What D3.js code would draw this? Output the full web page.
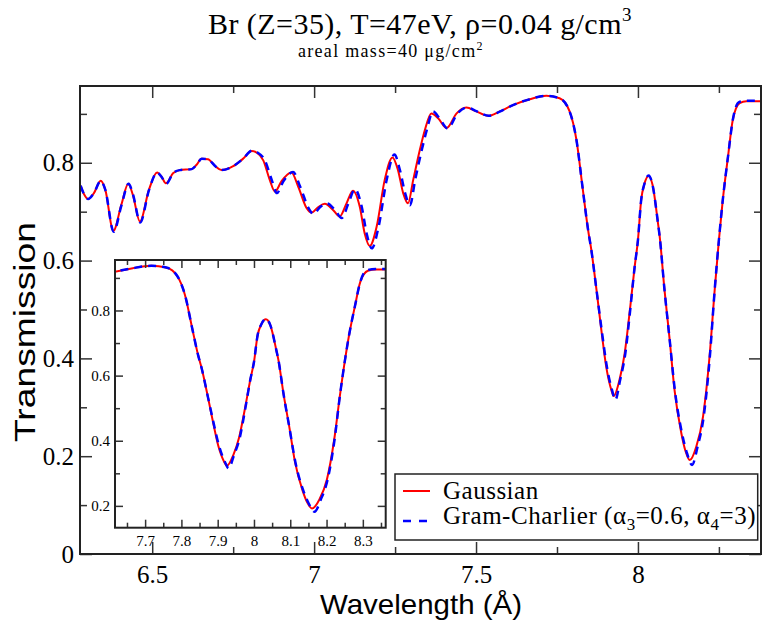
<!DOCTYPE html>
<html>
<head>
<meta charset="utf-8">
<script src="https://cdn.jsdelivr.net/npm/d3@7"></script>
<style>
  body { margin: 0; background: #fff; }
  svg text { font-family: "Liberation Serif", "Times New Roman", serif; fill: #000; }
  .tick line { stroke: #333; stroke-width: 1.5; }
</style>
</head>
<body>
<div id="chart"></div>
<script>
// Gaussian profile (red)
const wavelength = [6.279, 6.290, 6.302, 6.320, 6.341, 6.355, 6.380, 6.405, 6.426, 6.440, 6.462, 6.490,
  6.515, 6.530, 6.542, 6.565, 6.585, 6.622, 6.637, 6.652, 6.672, 6.695, 6.714, 6.750, 6.780, 6.807,
  6.822, 6.843, 6.863, 6.879, 6.899, 6.930, 6.951, 6.977, 6.992, 7.012, 7.033, 7.059, 7.079, 7.100,
  7.120, 7.141, 7.156, 7.172, 7.193, 7.218, 7.242, 7.259, 7.275, 7.290, 7.306, 7.326, 7.342, 7.362,
  7.383, 7.409, 7.440, 7.470, 7.501, 7.537, 7.573, 7.614, 7.666, 7.717, 7.758, 7.789, 7.810, 7.830,
  7.846, 7.856, 7.872, 7.887, 7.902, 7.918, 7.925, 7.943, 7.959, 7.974, 7.990, 8.000, 8.010, 8.020,
  8.033, 8.045, 8.062, 8.067, 8.082, 8.098, 8.113, 8.134, 8.147, 8.160, 8.180, 8.201, 8.221, 8.237,
  8.250, 8.262, 8.278, 8.293, 8.314, 8.335, 8.379];
const gaussian = [0.753, 0.735, 0.726, 0.738, 0.763, 0.745, 0.661, 0.715, 0.757, 0.735, 0.680, 0.745,
  0.780, 0.770, 0.758, 0.779, 0.785, 0.787, 0.796, 0.808, 0.807, 0.793, 0.785, 0.793, 0.808, 0.824,
  0.821, 0.805, 0.765, 0.741, 0.762, 0.780, 0.751, 0.707, 0.698, 0.709, 0.716, 0.703, 0.690, 0.717,
  0.743, 0.710, 0.656, 0.630, 0.669, 0.765, 0.811, 0.785, 0.738, 0.717, 0.765, 0.825, 0.867, 0.901,
  0.891, 0.871, 0.901, 0.913, 0.905, 0.896, 0.905, 0.918, 0.930, 0.937, 0.932, 0.905, 0.847, 0.744,
  0.663, 0.622, 0.540, 0.458, 0.383, 0.335, 0.323, 0.356, 0.410, 0.492, 0.588, 0.642, 0.724, 0.757,
  0.773, 0.755, 0.676, 0.650, 0.540, 0.438, 0.335, 0.247, 0.210, 0.192, 0.219, 0.281, 0.403, 0.540,
  0.642, 0.724, 0.812, 0.888, 0.922, 0.926, 0.926];

// Gram-Charlier profile (blue dashed)
const gcWavelength = [6.279, 6.290, 6.302, 6.320, 6.341, 6.355, 6.381, 6.405, 6.427, 6.440, 6.463, 6.490,
  6.515, 6.530, 6.543, 6.565, 6.585, 6.622, 6.637, 6.653, 6.672, 6.695, 6.714, 6.750, 6.780, 6.809,
  6.825, 6.848, 6.869, 6.885, 6.905, 6.935, 6.957, 6.983, 6.998, 7.018, 7.039, 7.065, 7.085, 7.106,
  7.126, 7.147, 7.162, 7.178, 7.199, 7.224, 7.248, 7.265, 7.281, 7.296, 7.312, 7.332, 7.348, 7.367,
  7.387, 7.412, 7.443, 7.472, 7.503, 7.539, 7.575, 7.614, 7.666, 7.717, 7.758, 7.789, 7.810, 7.830,
  7.846, 7.856, 7.872, 7.888, 7.904, 7.920, 7.930, 7.945, 7.961, 7.975, 7.990, 8.000, 8.010, 8.020,
  8.033, 8.045, 8.062, 8.067, 8.082, 8.098, 8.114, 8.136, 8.152, 8.167, 8.184, 8.203, 8.222, 8.237,
  8.250, 8.262, 8.278, 8.293, 8.312, 8.335, 8.379];
const gramCharlier = [0.753, 0.735, 0.726, 0.738, 0.763, 0.745, 0.659, 0.713, 0.757, 0.737, 0.678, 0.744,
  0.780, 0.770, 0.757, 0.779, 0.785, 0.787, 0.796, 0.808, 0.807, 0.793, 0.785, 0.793, 0.808, 0.825,
  0.821, 0.805, 0.765, 0.738, 0.762, 0.781, 0.751, 0.707, 0.695, 0.709, 0.717, 0.703, 0.687, 0.717,
  0.746, 0.710, 0.656, 0.625, 0.669, 0.765, 0.817, 0.785, 0.738, 0.713, 0.765, 0.825, 0.867, 0.905,
  0.891, 0.870, 0.901, 0.913, 0.905, 0.896, 0.905, 0.918, 0.930, 0.937, 0.932, 0.905, 0.847, 0.744,
  0.663, 0.622, 0.540, 0.458, 0.383, 0.335, 0.315, 0.356, 0.410, 0.492, 0.588, 0.642, 0.724, 0.757,
  0.774, 0.755, 0.676, 0.650, 0.540, 0.438, 0.335, 0.247, 0.205, 0.182, 0.219, 0.281, 0.403, 0.540,
  0.642, 0.724, 0.812, 0.888, 0.924, 0.927, 0.927];

const mainXTicks = [6.5, 7, 7.5, 8];
const mainXMinor = [6.75, 7.25, 7.75, 8.25];
const mainYTicks = [0, 0.2, 0.4, 0.6, 0.8];
const mainYMinor = [0.1, 0.3, 0.5, 0.7, 0.9];
const insetXTicks = [7.7, 7.8, 7.9, 8, 8.1, 8.2, 8.3];
const insetXMinor = [7.65, 7.75, 7.85, 7.95, 8.05, 8.15, 8.25, 8.35];
const insetYTicks = [0.2, 0.4, 0.6, 0.8];
const insetYMinor = [0.3, 0.5, 0.7, 0.9];

const seriesNames = ["Gaussian", "Gram-Charlier"];
const colors = { "Gaussian": "#ff0000", "Gram-Charlier": "#0000ff" };

const margin = { top: 86, right: 7, bottom: 70, left: 80 };
const width = 768 - margin.left - margin.right;
const height = 624 - margin.top - margin.bottom;

const svg = d3.select("#chart").append("svg")
  .attr("width", 768)
  .attr("height", 624);

const gaussData = d3.zip(wavelength, gaussian);
const gcData = d3.zip(gcWavelength, gramCharlier);

// draws ticks on all four sides of a box, pointing inward, plus the frame
function frameAxes(g, xs, ys, w, h, o) {
  const fmt = d => String(d);
  g.append("g").attr("transform", `translate(0,${h})`)
    .call(d3.axisBottom(xs).tickValues(o.xTicks).tickSize(-o.major).tickPadding(o.xPad).tickFormat(fmt));
  g.append("g").attr("transform", `translate(0,${h})`)
    .call(d3.axisBottom(xs).tickValues(o.xMinor).tickSize(-o.minor).tickFormat(""));
  g.append("g")
    .call(d3.axisTop(xs).tickValues(o.xTicks).tickSize(-o.major).tickFormat(""));
  g.append("g")
    .call(d3.axisTop(xs).tickValues(o.xMinor).tickSize(-o.minor).tickFormat(""));
  g.append("g")
    .call(d3.axisLeft(ys).tickValues(o.yTicks).tickSize(-o.major).tickPadding(o.yPad).tickFormat(fmt));
  g.append("g")
    .call(d3.axisLeft(ys).tickValues(o.yMinor).tickSize(-o.minor).tickFormat(""));
  g.append("g").attr("transform", `translate(${w},0)`)
    .call(d3.axisRight(ys).tickValues(o.yTicks).tickSize(-o.major).tickFormat(""));
  g.append("g").attr("transform", `translate(${w},0)`)
    .call(d3.axisRight(ys).tickValues(o.yMinor).tickSize(-o.minor).tickFormat(""));
  g.selectAll(".domain").remove();
  g.selectAll(".tick text")
    .style("font-family", '"Liberation Serif", "Times New Roman", serif')
    .style("font-size", o.font + "px")
    .attr("fill", "#000");
  g.append("rect")
    .attr("width", w).attr("height", h)
    .attr("fill", "none").attr("stroke", "#222").attr("stroke-width", 2);
}

// ---------- main panel ----------
const main = svg.append("g").attr("transform", `translate(${margin.left},${margin.top})`);

const x = d3.scaleLinear().domain([6.277, 8.38]).range([0, width]);
const y = d3.scaleLinear().domain([0, 0.957]).range([height, 0]);

main.append("clipPath").attr("id", "clip-main")
  .append("rect").attr("width", width).attr("height", height);

const line = d3.line()
  .x(d => x(d[0]))
  .y(d => y(d[1]))
  .curve(d3.curveMonotoneX);

const plot = main.append("g").attr("clip-path", "url(#clip-main)");
plot.append("path").datum(gaussData)
  .attr("d", line).attr("fill", "none")
  .attr("stroke", colors["Gaussian"]).attr("stroke-width", 2);
plot.append("path").datum(gcData)
  .attr("d", line).attr("fill", "none")
  .attr("stroke", colors["Gram-Charlier"]).attr("stroke-width", 2.5)
  .attr("stroke-dasharray", "8,6");

frameAxes(main, x, y, width, height, {
  xTicks: mainXTicks, xMinor: mainXMinor, yTicks: mainYTicks, yMinor: mainYMinor,
  major: 12, minor: 7, xPad: 11, yPad: 6, font: 25
});

// ---------- inset ----------
const inset = { left: 115, top: 260, width: 270.7, height: 267.7 };
const ig = svg.append("g").attr("transform", `translate(${inset.left},${inset.top})`);
ig.append("rect").attr("width", inset.width).attr("height", inset.height).attr("fill", "#fff");

const xi = d3.scaleLinear().domain([7.617, 8.363]).range([0, inset.width]);
const yi = d3.scaleLinear().domain([0.133, 0.955]).range([inset.height, 0]);

ig.append("clipPath").attr("id", "clip-inset")
  .append("rect").attr("width", inset.width).attr("height", inset.height);

const lineInset = d3.line()
  .x(d => xi(d[0]))
  .y(d => yi(d[1]))
  .curve(d3.curveMonotoneX);

const iplot = ig.append("g").attr("clip-path", "url(#clip-inset)");
iplot.append("path").datum(gaussData)
  .attr("d", lineInset).attr("fill", "none")
  .attr("stroke", colors["Gaussian"]).attr("stroke-width", 2);
iplot.append("path").datum(gcData)
  .attr("d", lineInset).attr("fill", "none")
  .attr("stroke", colors["Gram-Charlier"]).attr("stroke-width", 2.5)
  .attr("stroke-dasharray", "8,6");

frameAxes(ig, xi, yi, inset.width, inset.height, {
  xTicks: insetXTicks, xMinor: insetXMinor, yTicks: insetYTicks, yMinor: insetYMinor,
  major: 8, minor: 5, xPad: 8, yPad: 5, font: 15
});

// ---------- legend ----------
const legend = svg.append("g").attr("transform", "translate(395,474)");
legend.append("rect")
  .attr("width", 362.7).attr("height", 66)
  .attr("fill", "#fff").attr("stroke", "#222").attr("stroke-width", 1.5);

legend.selectAll(".key")
  .data(seriesNames)
  .join("line")
  .attr("class", "key")
  .attr("x1", 8).attr("x2", 35)
  .attr("y1", (d, i) => 17 + i * 30).attr("y2", (d, i) => 17 + i * 30)
  .attr("stroke", d => colors[d])
  .attr("stroke-width", (d, i) => i ? 2.5 : 2)
  .attr("stroke-dasharray", (d, i) => i ? "8,8" : null);

legend.append("text").attr("x", 48).attr("y", 25)
  .style("font-size", "25px").style("letter-spacing", "0.5px").text("Gaussian");

const gcText = legend.append("text").attr("x", 48).attr("y", 50)
  .style("font-size", "25px").style("letter-spacing", "0.55px");
gcText.append("tspan").text("Gram-Charlier (α");
gcText.append("tspan").attr("dy", 6).style("font-size", "17px").text("3");
gcText.append("tspan").attr("dy", -6).text("=0.6, α");
gcText.append("tspan").attr("dy", 6).style("font-size", "17px").text("4");
gcText.append("tspan").attr("dy", -6).text("=3)");

// ---------- titles ----------
const title = svg.append("text").attr("x", 208).attr("y", 34)
  .style("font-size", "30px").style("letter-spacing", "0.45px");
title.append("tspan").text("Br (Z=35), T=47eV, ρ=0.04 g/cm");
title.append("tspan").attr("dy", -13).style("font-size", "19px").text("3");

const sub = svg.append("text").attr("x", 298).attr("y", 57)
  .style("font-size", "18px").style("letter-spacing", "1.3px");
sub.append("tspan").text("areal mass=40 μg/cm");
sub.append("tspan").attr("dy", -7).style("font-size", "12px").text("2");

svg.append("text")
  .attr("transform", "translate(35,332) rotate(-90)")
  .attr("text-anchor", "middle")
  .style("font-family", '"Liberation Sans", Arial, sans-serif')
  .style("font-size", "30px")
  .attr("textLength", 220).attr("lengthAdjust", "spacingAndGlyphs")
  .text("Transmission");

svg.append("text")
  .attr("x", 421).attr("y", 614)
  .attr("text-anchor", "middle")
  .style("font-family", '"Liberation Sans", Arial, sans-serif')
  .style("font-size", "28px")
  .attr("textLength", 202).attr("lengthAdjust", "spacingAndGlyphs")
  .text("Wavelength (Å)");
</script>
</body>
</html>
